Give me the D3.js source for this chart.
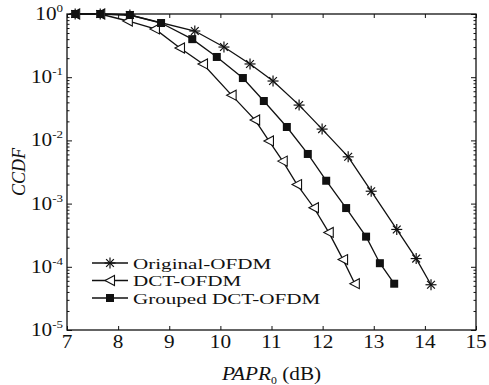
<!DOCTYPE html>
<html>
<head>
<meta charset="utf-8">
<script src="https://cdn.jsdelivr.net/npm/d3@7"></script>
<style>
  body { margin: 0; background: #fff; }
  svg text { font-family: "Liberation Serif", "Times New Roman", serif; fill: #111; }
</style>
</head>
<body>
<svg id="chart" width="489" height="385"></svg>
<script>
// PAPR0 (dB) and CCDF
const xOriginal = [7.16, 7.65, 8.23, 9.50, 10.07, 10.58, 11.03, 11.54, 11.99, 12.50, 12.95, 13.45, 13.83, 14.12];
const yOriginal = [1, 1, 0.964, 0.538, 0.30, 0.162, 0.087, 0.0362, 0.0151, 0.0055, 0.00157, 3.9e-4, 1.35e-4, 5.2e-5];

const xDct = [7.16, 7.65, 8.19, 8.72, 9.21, 9.66, 10.22, 10.68, 10.95, 11.22, 11.50, 11.83, 12.12, 12.40, 12.63];
const yDct = [1, 1, 0.775, 0.58, 0.29, 0.162, 0.052, 0.021, 0.0098, 0.0047, 0.0020, 8.6e-4, 3.5e-4, 1.3e-4, 5.4e-5];

const xGrouped = [7.16, 7.65, 8.23, 8.84, 9.45, 9.93, 10.44, 10.85, 11.30, 11.71, 12.07, 12.46, 12.85, 13.12, 13.40];
const yGrouped = [1, 1, 0.964, 0.72, 0.40, 0.209, 0.097, 0.042, 0.0163, 0.0061, 0.0023, 8.5e-4, 3.0e-4, 1.14e-4, 5.4e-5];

const xTicks = [7, 8, 9, 10, 11, 12, 13, 14, 15];
const yExponents = [0, -1, -2, -3, -4, -5];
const legendNames = ['Original-OFDM', 'DCT-OFDM', 'Grouped DCT-OFDM'];

const ink = '#111';
const stretch = 'scale(1.18,1)';
const margin = { top: 14, right: 13, bottom: 55, left: 67 };
const W = 489, H = 385;

const x = d3.scaleLinear().domain([7, 15]).range([margin.left, W - margin.right]);
const y = d3.scaleLog().domain([1e-5, 1]).range([H - margin.bottom, margin.top]);

const svg = d3.select('#chart');

// ticks (inward on all four sides)
const minorVals = [];
for (let k = -5; k < 0; k++) for (let m = 2; m <= 9; m++) minorVals.push(m * Math.pow(10, k));
const majorVals = yExponents.map(e => Math.pow(10, e));

function tickGroup(axis, tx, ty) {
  const g = svg.append('g').attr('transform', `translate(${tx},${ty})`).call(axis);
  g.select('.domain').remove();
  g.selectAll('line').attr('stroke', ink).attr('stroke-width', 1);
  g.selectAll('text').remove();
  return g;
}
tickGroup(d3.axisBottom(x).tickValues(xTicks).tickSize(-4), 0, y(1e-5));
tickGroup(d3.axisTop(x).tickValues(xTicks).tickSize(-4), 0, y(1));
tickGroup(d3.axisLeft(y).tickValues(majorVals).tickSize(-5), x(7), 0);
tickGroup(d3.axisLeft(y).tickValues(minorVals).tickSize(-2.5), x(7), 0);
tickGroup(d3.axisRight(y).tickValues(majorVals).tickSize(-5), x(15), 0);
tickGroup(d3.axisRight(y).tickValues(minorVals).tickSize(-2.5), x(15), 0);

// frame
svg.append('rect')
  .attr('x', x(7)).attr('y', y(1))
  .attr('width', x(15) - x(7)).attr('height', y(1e-5) - y(1))
  .attr('fill', 'none').attr('stroke', ink).attr('stroke-width', 1.3);

// x tick labels
svg.append('g').selectAll('text').data(xTicks).join('text')
  .attr('transform', d => `translate(${x(d)},${y(1e-5) + 18}) ${stretch}`)
  .attr('text-anchor', 'middle')
  .attr('font-size', 18)
  .text(d => d);

// y tick labels 10^e
const yl = svg.append('g').selectAll('g').data(yExponents).join('g')
  .attr('transform', d => `translate(${x(7) - 4},${y(Math.pow(10, d)) + 6}) ${stretch}`);
yl.append('text')
  .attr('text-anchor', 'end')
  .attr('font-size', 18)
  .call(t => {
    t.append('tspan').text('10');
    t.append('tspan').attr('font-size', 11).attr('dy', -8).text(d => d === 0 ? '0' : '-' + (-d));
  });

// axis titles
const xt = svg.append('text')
  .attr('transform', `translate(${(x(7) + x(15)) / 2},${H - 5}) ${stretch}`)
  .attr('text-anchor', 'middle')
  .attr('font-size', 18);
xt.append('tspan').attr('font-style', 'italic').text('PAPR');
xt.append('tspan').attr('font-size', 10).attr('dy', 4).text('0');
xt.append('tspan').attr('dy', -4).text(' (dB)');

svg.append('text')
  .attr('transform', `translate(25,${(y(1) + y(1e-5)) / 2}) rotate(-90)`)
  .attr('text-anchor', 'middle')
  .attr('font-size', 18)
  .attr('font-style', 'italic')
  .text('CCDF');

// markers
function drawMarker(sel, type) {
  if (type === 'star') {
    const r = 5.5;
    for (let i = 0; i < 4; i++) {
      const a = i * Math.PI / 4;
      sel.append('line')
        .attr('x1', -r * Math.cos(a)).attr('y1', -r * Math.sin(a))
        .attr('x2', r * Math.cos(a)).attr('y2', r * Math.sin(a))
        .attr('stroke', ink).attr('stroke-width', 1.2);
    }
  } else if (type === 'tri') {
    sel.append('path')
      .attr('d', 'M-5,0 L4.5,-5 L4.5,5 Z')
      .attr('fill', '#fff').attr('stroke', ink).attr('stroke-width', 1.1);
  } else {
    sel.append('rect')
      .attr('x', -4).attr('y', -4).attr('width', 8).attr('height', 8)
      .attr('fill', ink);
  }
}

const series = [
  { xs: xOriginal, ys: yOriginal, marker: 'star' },
  { xs: xDct, ys: yDct, marker: 'tri' },
  { xs: xGrouped, ys: yGrouped, marker: 'sq' }
];

const line = d3.line().x(d => x(d[0])).y(d => y(d[1]));

series.forEach(s => {
  const pts = s.xs.map((v, i) => [v, s.ys[i]]);
  svg.append('path')
    .attr('d', line(pts))
    .attr('fill', 'none').attr('stroke', ink).attr('stroke-width', 1.3);
});
series.forEach(s => {
  const pts = s.xs.map((v, i) => [v, s.ys[i]]);
  svg.append('g').selectAll('g').data(pts).join('g')
    .attr('transform', d => `translate(${x(d[0])},${y(d[1])})`)
    .each(function () { drawMarker(d3.select(this), s.marker); });
});

// legend
const lg = svg.append('g').selectAll('g').data(legendNames).join('g')
  .attr('transform', (d, i) => `translate(92,${263 + i * 17.5})`);
lg.append('line').attr('x1', 0).attr('x2', 36).attr('stroke', ink).attr('stroke-width', 1.3);
lg.each(function (d, i) {
  const m = d3.select(this).append('g').attr('transform', 'translate(18,0)');
  drawMarker(m, series[i].marker);
});
lg.append('text')
  .attr('transform', `translate(41,5.5) scale(1.36,1)`)
  .attr('font-size', 15.5)
  .text(d => d);
</script>
</body>
</html>
